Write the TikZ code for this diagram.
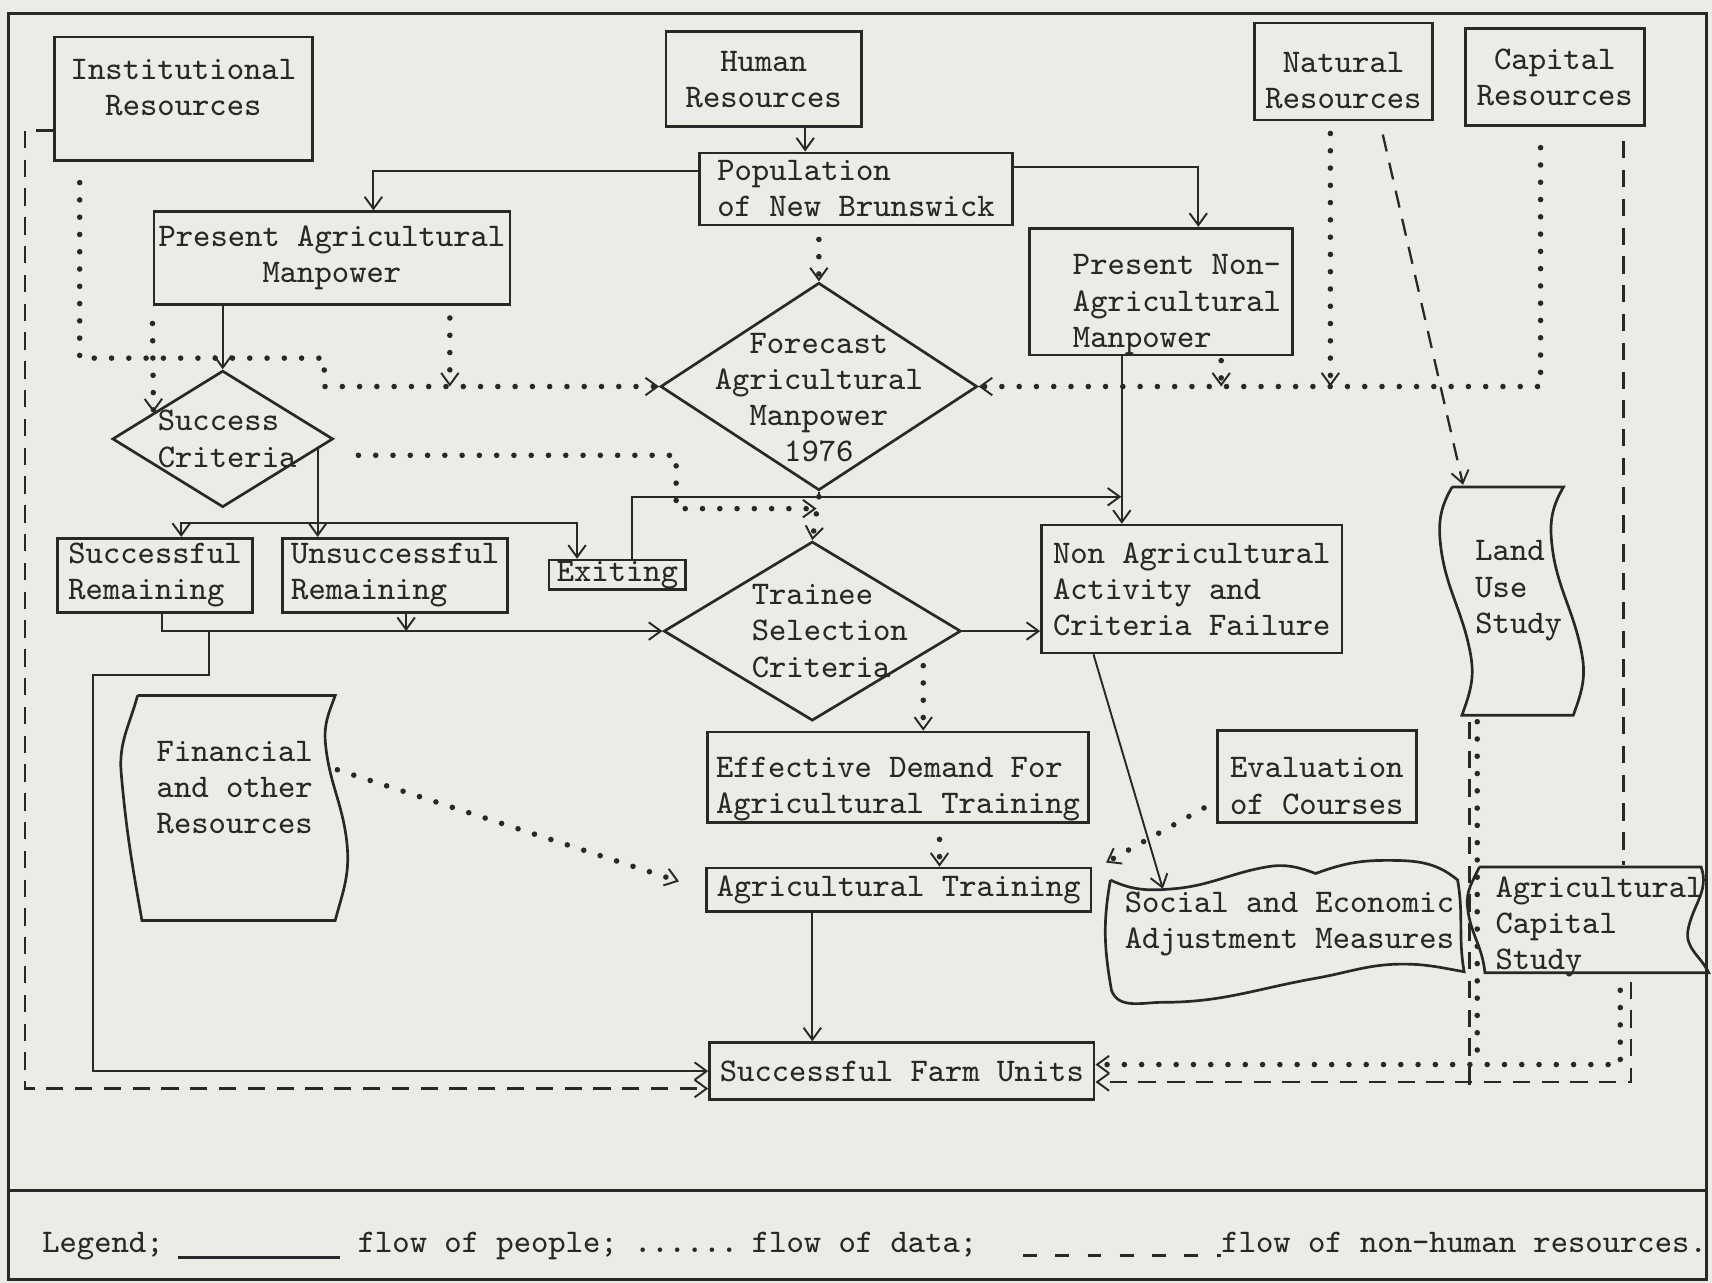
\documentclass[tikz,border=0pt]{standalone}
\usepackage{tikz}
\usetikzlibrary{arrows.meta, calc, shapes.geometric}
\definecolor{paper}{RGB}{236,235,230}
\definecolor{ink}{RGB}{40,40,40}

\begin{document}
\begin{tikzpicture}[
    x=0.01cm, y=-0.01cm,
    >={Straight Barb[length=1.1mm, width=1.6mm, line width'=0.5pt]},
    every node/.style={font=\ttfamily\fontsize{8.6}{9.4}\selectfont, text=ink},
    box/.style={draw=ink, line width=0.7pt, inner sep=0pt},
    decision/.style={draw=ink, diamond, line width=0.7pt, inner sep=0pt},
    txt/.style={align=left, inner sep=0pt},
    legtxt/.style={anchor=base west, inner sep=0pt},
    people/.style={draw=ink, line width=0.5pt},
    data/.style={draw=ink, line width=1.45pt, line cap=round, dash pattern=on 0pt off 4.5pt},
    res/.style={draw=ink, line width=0.6pt, dash pattern=on 4.5pt off 3pt},
]
    % Paper and frame
    \useasboundingbox (0,0) rectangle (1568,1175);
    \fill[paper] (0,0) rectangle (1568,1175);
    \draw[ink, line width=0.8pt] (8,12) rectangle (1563,1172);
    \draw[ink, line width=0.8pt] (8,1090) -- (1563,1090);

    % Resources
    \node[box, minimum width=2.36cm, minimum height=1.13cm,
          label={[txt, align=center, yshift=0.1cm]center:{Institutional\\Resources}}] (inst) at (168,90.5) {};
    \node[box, align=center, minimum width=1.79cm, minimum height=0.87cm] (hum) at (699.5,72.5) {Human\\Resources};
    \node[box, minimum width=1.63cm, minimum height=0.89cm,
          label={[txt, align=center, yshift=-0.08cm]center:{Natural\\Resources}}] (nat) at (1230.5,65.5) {};
    \node[box, align=center, minimum width=1.64cm, minimum height=0.89cm] (cap) at (1424,70.5) {Capital\\Resources};

    % Manpower
    \node[box, align=left, minimum width=2.86cm, minimum height=0.66cm] (pop) at (784,173) {Population\\of New Brunswick};
    \node[box, align=center, minimum width=3.26cm, minimum height=0.85cm] (pagr) at (304,236.5) {Present Agricultural\\Manpower};
    \node[box, minimum width=2.41cm, minimum height=1.16cm,
          label={[txt, xshift=0.145cm, yshift=-0.12cm]center:{Present Non-\\Agricultural\\Manpower}}] (pnon) at (1063.5,267) {};

    % Criteria
    \node[decision, minimum width=2.90cm, minimum height=1.90cm,
          label={[txt, align=center, yshift=-0.1cm]center:{Forecast\\Agricultural\\Manpower\\1976}}] (fore) at (750,354) {};
    \node[decision, minimum width=2.02cm, minimum height=1.25cm,
          label={[txt, xshift=0.04cm]center:{Success\\Criteria}}] (succ) at (204,402) {};
    \node[decision, minimum width=2.72cm, minimum height=1.64cm,
          label={[txt, xshift=0.16cm]center:{Trainee\\Selection\\Criteria}}] (train) at (744,578) {};

    % Remaining and exiting
    \node[box, align=left, minimum width=1.78cm, minimum height=0.68cm] (sucr) at (142,527) {Successful\\Remaining};
    \node[box, align=left, minimum width=2.06cm, minimum height=0.68cm] (unsr) at (362,527) {Unsuccessful\\Remaining};
    \node[box, minimum width=1.25cm, minimum height=0.27cm] (exit) at (565.5,526.5) {Exiting};
    \node[box, align=left, minimum width=2.75cm, minimum height=1.17cm] (nonagr) at (1091.5,539.5) {Non Agricultural\\Activity and\\Criteria Failure};

    % Training
    \node[box, minimum width=3.49cm, minimum height=0.83cm,
          label={[txt, yshift=-0.11cm]center:{Effective Demand For\\Agricultural Training}}] (effd) at (822.5,712) {};
    \node[box, minimum width=1.82cm, minimum height=0.84cm,
          label={[txt, align=center, yshift=-0.09cm]center:{Evaluation\\of Courses}}] (eval) at (1206,711) {};
    \node[box, minimum width=3.52cm, minimum height=0.40cm] (agtr) at (823,815) {Agricultural Training};
    \node[box, minimum width=3.52cm, minimum height=0.52cm] (farm) at (826,981) {Successful Farm Units};

    % Tape shaped studies
    \draw[box] (126,637) -- (307,637)
        to[out=-110,in=95] (298,680) to[out=-85,in=95] (318,775) to[out=-85,in=75] (307,843)
        -- (130,843)
        to[out=100,in=-85] (111,708) to[out=95,in=-105] (126,637);
    \node[txt] (fin) at (215,721) {Financial\\and other\\Resources};
    \draw[box] (1330,446) -- (1432,446)
        to[out=-120,in=95] (1421,495) to[out=-85,in=100] (1449,600) to[out=-80,in=70] (1441,655)
        -- (1339,655)
        to[out=70,in=-80] (1347,600) to[out=100,in=-85] (1319,495) to[out=95,in=-120] (1330,446);
    \node[txt] (landuse) at (1391,541) {Land\\Use\\Study};
    \draw[box] (1355,794) -- (1558,794)
        to[out=-70,in=80] (1546,852) to[out=-100,in=115] (1565,891)
        -- (1360,891)
        to[out=95,in=-85] (1344,830) to[out=95,in=-115] (1355,794);
    \node[txt] (capstudy) at (1465,849) {Agricultural\\Capital\\Study};
    \draw[box] (1017,806)
        to[out=-25,in=185] (1075,814) to[out=5,in=190] (1160,794) to[out=10,in=160] (1205,800)
        to[out=20,in=180] (1270,788) to[out=0,in=140] (1335,806)
        to[out=-80,in=100] (1341,890)
        to[out=170,in=0] (1285,883) to[out=180,in=10] (1205,896) to[out=190,in=0] (1065,918)
        to[out=180,in=-70] (1018,907)
        to[out=100,in=-100] (1017,806);
    \node[txt] (socadj) at (1181,846) {Social and Economic\\Adjustment Measures};

    % Junctions and shape ends
    \coordinate (lus-t) at (1340,444);
    \coordinate (lus-b) at (1349,657);
    \coordinate (acs-t) at (1487,792);
    \coordinate (acs-b) at (1489,893);
    \coordinate (se-t) at (1065,814);
    \coordinate (se-tl) at (1017,806);
    \coordinate (fin-e) at (309,705);
    \coordinate (nj) at (1027,455);
    \coordinate (split) at (290,479);
    \coordinate (j1) at (191,578);
    \coordinate (dk) at (297,328);
    \coordinate (dj) at ($(fore.south)!0.35!(train.north)$);
    \coordinate (fd) at ($(farm.east)+(0,-6)$);
    \coordinate (fr) at ($(farm.east)+(0,10)$);
    \coordinate (fl) at ($(farm.west)+(0,16)$);

    % Flow of people
    \draw[people,->] ($(hum.south)+(38,0)$) coordinate (h1) -- (h1 |- pop.north);
    \draw[people,->] ($(pop.west)+(0,-16)$) -| ($(pagr.north)+(38,0)$);
    \draw[people,->] ($(pop.east)+(0,-20)$) -| ($(pnon.north)+(34,0)$);
    \draw[people,->] (succ.north |- pagr.south) -- (succ.north);
    \draw[people,->] ($(succ.east)!0.15!(succ.south)$) coordinate (s1) -- (s1 |- unsr.north);
    \draw[people,->] (split) -| ($(sucr.north)+(24,0)$);
    \draw[people,->] (split) -| ($(exit.north)+(-37,0)$);
    \draw[people,->] ($(exit.north)+(13,0)$) |- (nj);
    \draw[people] (fore.south) -- (fore.south |- nj);
    \draw[people,->] ($(pnon.south)+(-36,0)$) coordinate (pn1) -- (pn1 |- nonagr.north);
    \draw[people,->] ($(sucr.south)+(6,0)$) |- (train.west);
    \draw[people,->] ($(unsr.south)+(10,0)$) coordinate (u1) -- (u1 |- train.west);
    \draw[people,->] (j1) -- ++(0,40) -- ++(-106,0) |- (farm.west);
    \draw[people,->] (train.east) -- (train.east -| nonagr.west);
    \draw[people,->] ($(nonagr.south)+(-90,0)$) -- (se-t);
    \draw[people,->] ($(agtr.south)+(-79,0)$) coordinate (a1) -- (a1 |- farm.north);

    % Flow of data
    \draw[data,->] ($(inst.south)+(-95,19)$) |- (dk) |- (fore.west);
    \draw[data,->] ($(pagr.south west)+(0,16)$) -- ($(succ.west)!0.38!(succ.north)$);
    \draw[data,->] ($(pagr.south)+(108,11)$) coordinate (p1) -- (p1 |- fore.west);
    \draw[data,->] (fore.north |- pop.south) ++(0,12) -- (fore.north);
    \draw[data,->] ($(cap.south)+(-13,19)$) |- (fore.east);
    \draw[data,->] ($(nat.south)+(-12,11)$) coordinate (n1) -- (n1 |- fore.east);
    \draw[data,->] ($(pnon.south)+(55,4)$) coordinate (n2) -- (n2 |- fore.east);
    \draw[data,->] ($(succ.east)+(22,15)$) -- ++(291,0) |- (dj);
    \draw[data,->] (fore.south |- nj) -- (train.north);
    \draw[data,->] ($(train.east)!0.26!(train.south)$) ++(0,10) coordinate (t1) -- (t1 |- effd.north);
    \draw[data,->] ($(effd.south)+(38,14)$) coordinate (e1) -- (e1 |- agtr.north);
    \draw[data,->, shorten >=2.5mm] (fin-e) -- (agtr.west);
    \draw[data,->] ($(eval.west)+(-11,29)$) -- ($(se-tl)+(-4,-16)$);
    \draw[data] ($(lus-b)+(4,4)$) coordinate (l1) -- (l1 |- fd);
    \draw[data,->] ($(acs-b)+(-5,14)$) |- (fd);

    % Flow of non-human resources
    \draw[res,->] ($(inst.west)+(0,29)$) -- ++(-26,0) |- (fl);
    \draw[res,->] ($(nat.south)+(36,12)$) -- (lus-t);
    \draw[res] ($(cap.south)+(63,13)$) -- (acs-t);
    \draw[res] ($(lus-b)+(-3,4)$) coordinate (l2) -- ($(l2 |- fr)+(0,5)$);
    \draw[res,->] ($(acs-b)+(5,6)$) |- (fr);

    % Legend
    \node[legtxt] (leg) at (38,1147) {Legend;};
    \draw[people, line width=0.8pt] (163,1152) -- (311,1152);
    \node[legtxt] (legp) at (327,1147) {flow of people;};
    \node[legtxt, font=\bfseries\ttfamily\fontsize{8.6}{9.4}\selectfont] (legdots) at (580,1147) {......};
    \node[legtxt] (legd) at (688,1147) {flow of data;};
    \draw[res, dash pattern=on 3.6pt off 4.8pt] (937,1150) -- (1118,1150);
    \node[legtxt] (legr) at (1118,1147) {flow of non-human resources.};
\end{tikzpicture}
\end{document}
